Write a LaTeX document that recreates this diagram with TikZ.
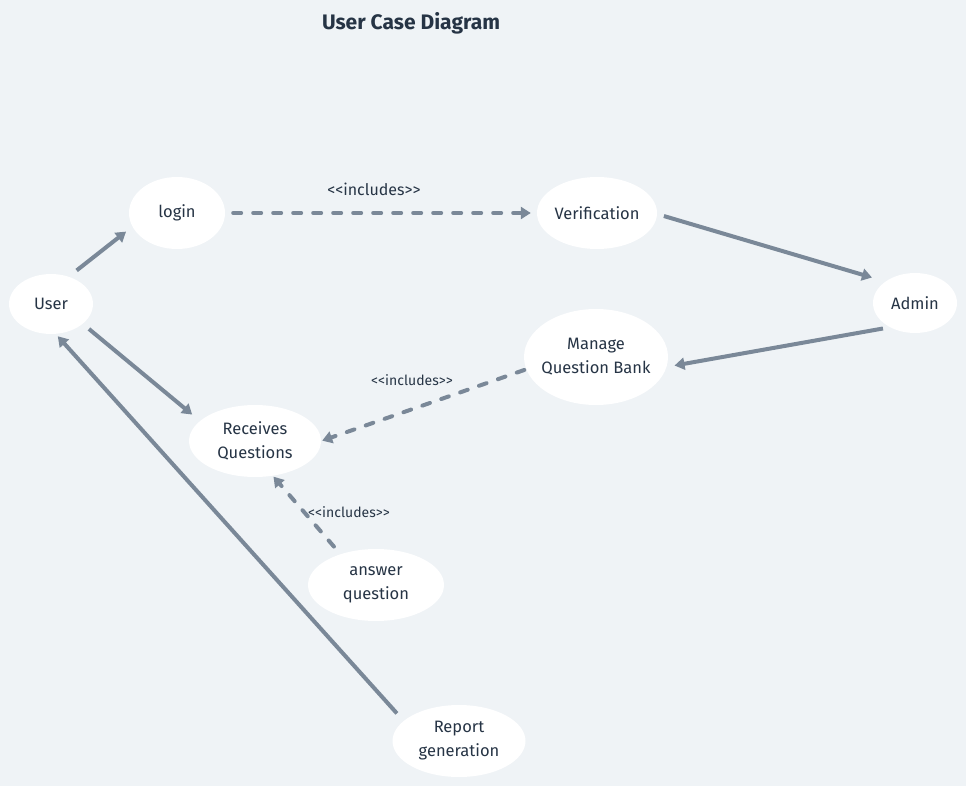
\documentclass[tikz,border=0pt]{standalone}
\usepackage{fontspec}
\setmainfont{Fira Sans}
\usetikzlibrary{arrows.meta,shapes.geometric}
\definecolor{bgc}{HTML}{EFF3F6}
\definecolor{linec}{HTML}{7A8898}
\definecolor{txtc}{HTML}{263445}
\tikzset{
  uc/.style={ellipse, fill=white, inner sep=0pt, text=txtc, align=center,
    font=\fontsize{16.5}{24}\selectfont},
  conn/.style={draw=linec, line width=4pt, -{Triangle[length=10pt,width=12pt]}},
  dconn/.style={conn, line cap=round, dash pattern=on 8pt off 12pt},
  lbl/.style={text=txtc, font=\fontsize{16}{18}\selectfont},
  slbl/.style={text=txtc, font=\fontsize{14}{16}\selectfont},
}
\newcommand{\incl}{{<}{<}includes{>}{>}}
\begin{document}
\begin{tikzpicture}[x=1pt,y=-1pt]
\fill[bgc] (0,0) rectangle (966,786);
\useasboundingbox (0,0) rectangle (966,786);
\node[text=txtc, font=\fontsize{21}{24}\selectfont\bfseries] (title) at (411,23) {User Case Diagram};
\node[uc, minimum width=84pt, minimum height=60pt] (user) at (51,304) {User};
\node[uc, minimum width=96pt, minimum height=72pt] (login) at (177,213) {login};
\node[uc, minimum width=120pt, minimum height=72pt] (verif) at (597,213) {Verification};
\node[uc, minimum width=84pt, minimum height=60pt] (admin) at (915,303) {Admin};
\node[uc, minimum width=144pt, minimum height=96pt, inner sep=-4pt] (manage) at (596,357) {Manage\\Question Bank};
\node[uc, minimum width=132pt, minimum height=72pt] (recv) at (255,441) {Receives\\Questions};
\node[uc, minimum width=136pt, minimum height=72pt] (answer) at (376,585) {answer\\question};
\node[uc, minimum width=133pt, minimum height=72pt] (report) at (459,741) {Report\\generation};
% connectors
\draw[conn, shorten <=10pt, shorten >=8pt] (user.57) -- (login.197);
\draw[dconn, shorten <=8pt, shorten >=6pt] (login.east) -- (verif.west);
\draw[conn, shorten <=7pt, shorten >=14pt] (verif.-1) -- (admin.144);
\draw[conn, shorten <=7pt, shorten >=8pt] (admin.224) -- (manage.-8);
\draw[dconn, shorten <=2pt, shorten >=1pt] (manage.190) -- (recv.0);
\draw[conn, shorten <=8pt, shorten >=10pt] (user.-32) -- (recv.160);
\draw[dconn, shorten <=10pt, shorten >=1pt] (answer.139) -- (recv.-63);
\draw[conn, shorten <=10pt, shorten >=3pt] (report.160) -- (user.-81);
% labels
\node[lbl] (l1) at (374,189) {\incl};
\node[slbl] (l2) at (412,380) {\incl};
\node[slbl] (l3) at (349,512) {\incl};
\end{tikzpicture}
\end{document}
